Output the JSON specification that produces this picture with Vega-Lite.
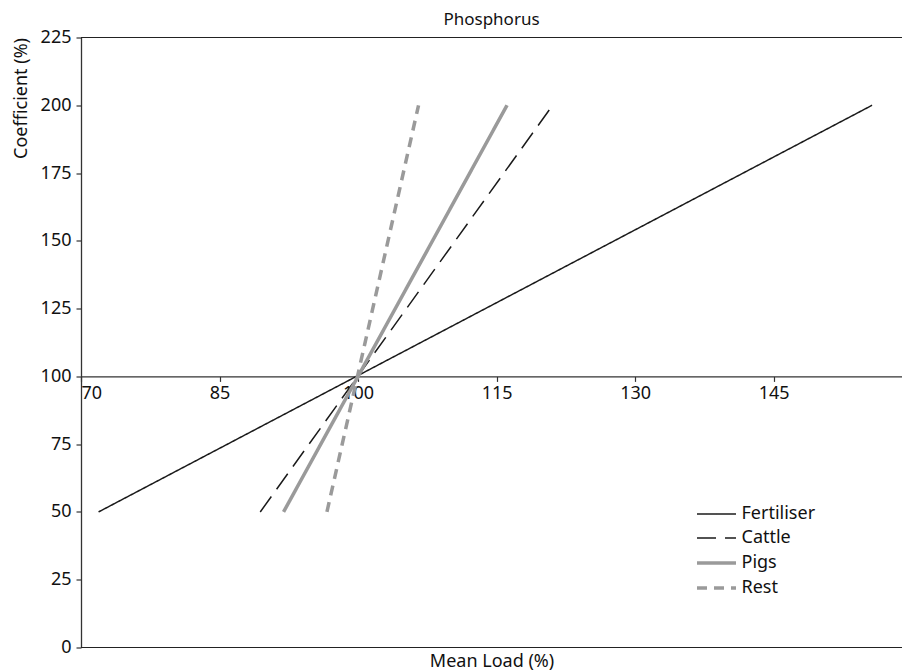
{
  "$schema": "https://vega.github.io/schema/vega-lite/v6.json",
  "autosize": "none",
  "padding": {"left": 81, "top": 37.5, "right": 0, "bottom": 24.5},
  "width": 821,
  "height": 610,
  "background": "white",
  "config": {
    "font": "Noto Sans",
    "view": {"stroke": null},
    "axis": {"grid": false, "domainColor": "#333333", "domainWidth": 1.3, "tickColor": "#333333", "tickWidth": 1.2, "tickSize": 5, "labelFontSize": 18, "labelColor": "#111111", "titleFontSize": 18, "titleFontWeight": "normal", "titleColor": "#111111", "labelFont": "Noto Sans", "titleFont": "Noto Sans"},
    "legend": {"labelFontSize": 18, "labelFont": "Noto Sans"}
  },
  "title": {"text": "Phosphorus", "fontSize": 17, "fontWeight": "normal", "color": "#111111", "anchor": "middle", "offset": 0, "font": "Noto Sans"},
  "data": {
    "values": [
      {"source": "Fertiliser", "load": 71.9, "coef": 50},
      {"source": "Fertiliser", "load": 155.66, "coef": 200},
      {"source": "Cattle", "load": 89.41, "coef": 50},
      {"source": "Cattle", "load": 121.07, "coef": 200},
      {"source": "Pigs", "load": 91.93, "coef": 50},
      {"source": "Pigs", "load": 116.13, "coef": 200},
      {"source": "Rest", "load": 96.63, "coef": 50},
      {"source": "Rest", "load": 106.55, "coef": 200}
    ]
  },
  "layer": [
    {
      "mark": {"type": "rule", "color": "#222222", "strokeWidth": 1.2},
      "encoding": {"y": {"datum": 225, "type": "quantitative"}}
    },
    {
      "mark": {"type": "rule", "color": "#222222", "strokeWidth": 1.2},
      "encoding": {"y": {"datum": 0, "type": "quantitative"}}
    },
    {
      "mark": {"type": "line", "strokeCap": "butt"},
      "encoding": {
        "x": {
          "field": "load", "type": "quantitative",
          "scale": {"domain": [70, 158.9], "nice": false, "zero": false},
          "axis": {"values": [70, 85, 100, 115, 130, 145], "offset": -271.1, "labelFlush": true, "labelPadding": 3, "labelFontSize": 18, "titleFontSize": 18, "title": "Mean Load (%)", "titleY": 276, "titleBaseline": "top"}
        },
        "y": {
          "field": "coef", "type": "quantitative",
          "scale": {"domain": [0, 225], "nice": false},
          "axis": {"values": [0, 25, 50, 75, 100, 125, 150, 175, 200, 225], "labelPadding": 5, "labelFontSize": 18, "titleFontSize": 18, "title": "Coefficient (%)", "titleAnchor": "end", "titlePadding": 10}
        },
        "color": {
          "field": "source", "type": "nominal",
          "scale": {"domain": ["Fertiliser", "Cattle", "Pigs", "Rest"], "range": ["#1a1a1a", "#1a1a1a", "#9a9a9a", "#9a9a9a"]},
          "legend": {"title": null, "orient": "none", "legendX": 624, "legendY": 466, "symbolType": "M-2,0H2", "symbolSize": 380, "labelFontSize": 18, "labelColor": "#111111", "labelOffset": 13.5, "rowPadding": 4, "labelFont": "Noto Sans"}
        },
        "strokeDash": {
          "field": "source", "type": "nominal",
          "scale": {"domain": ["Fertiliser", "Cattle", "Pigs", "Rest"], "range": [[1, 0], [19, 9], [1, 0], [10, 7]]}
        },
        "strokeWidth": {
          "field": "source", "type": "ordinal",
          "scale": {"type": "ordinal", "domain": ["Fertiliser", "Cattle", "Pigs", "Rest"], "range": [1.5, 1.5, 3.5, 3.5]}
        }
      }
    }
  ]
}
